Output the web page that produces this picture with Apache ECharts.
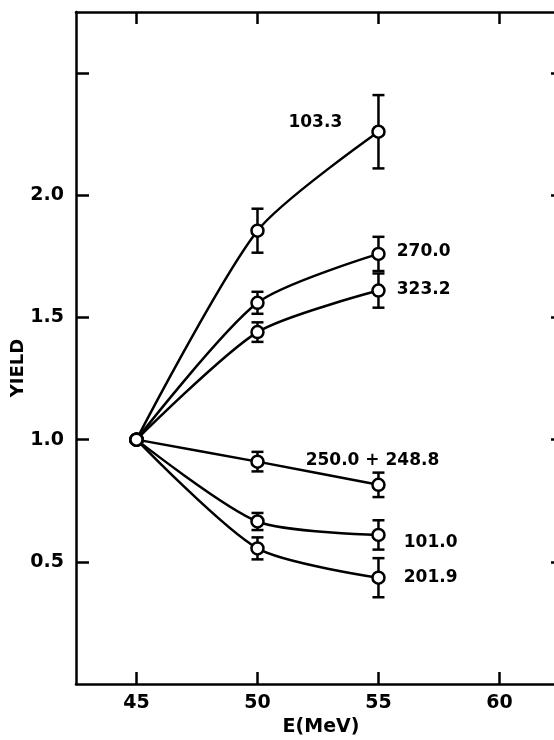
<!DOCTYPE html>
<html>
<head>
<meta charset="utf-8">
<script src="https://cdn.jsdelivr.net/npm/echarts@6/dist/echarts.min.js"></script>
<style>html,body{margin:0;padding:0;background:#fff;}#c{width:554px;height:740px;}</style>
</head>
<body>
<div id="c"></div>
<script>
// ---- data ----
const energies = [45, 50, 55];
const seriesNames = ['103.3', '270.0', '323.2', '250.0 + 248.8', '101.0', '201.9'];
const yield_103_3 = [1.0, 1.855, 2.26];
const err_103_3   = [0, 0.09, 0.15];
const yield_270_0 = [1.0, 1.56, 1.76];
const err_270_0   = [0, 0.045, 0.07];
const yield_323_2 = [1.0, 1.44, 1.61];
const err_323_2   = [0, 0.04, 0.07];
const yield_250_248 = [1.0, 0.91, 0.815];
const err_250_248   = [0, 0.04, 0.05];
const yield_101_0 = [1.0, 0.665, 0.61];
const err_101_0   = [0, 0.035, 0.06];
const yield_201_9 = [1.0, 0.555, 0.435];
const err_201_9   = [0, 0.045, 0.08];
const xTickValues = [45, 50, 55, 60];
const yTickValues = [0.5, 1.0, 1.5, 2.0, 2.5];
const yLabelValues = [0.5, 1.0, 1.5, 2.0];

const allYields = [yield_103_3, yield_270_0, yield_323_2, yield_250_248, yield_101_0, yield_201_9];
const allErrs = [err_103_3, err_270_0, err_323_2, err_250_248, err_101_0, err_201_9];

// label placement (style only)
const labelStyles = [
  {position: 'left', offset: [-24, -9]},
  {position: 'right', offset: [6, -2]},
  {position: 'right', offset: [6, -1]},
  {position: 'top', offset: [-6, -4]},
  {position: 'right', offset: [13, 8]},
  {position: 'right', offset: [13, 0]}
];

const FONT = 'DejaVu Sans';
const chart = echarts.init(document.getElementById('c'), null, {renderer: 'canvas'});

const series = [];
allYields.forEach((ys, si) => {
  series.push({
    type: 'custom',
    xAxisIndex: 0, yAxisIndex: 0,
    z: 2,
    silent: true,
    data: energies.map((e, i) => [e, ys[i], allErrs[si][i]]).filter(d => d[2] > 0),
    renderItem: function (params, api) {
      const x = api.value(0), y = api.value(1), er = api.value(2);
      const top = api.coord([x, y + er]);
      const bot = api.coord([x, y - er]);
      const hw = 6;
      const st = {stroke: '#000', lineWidth: 2.5};
      return {
        type: 'group',
        children: [
          {type: 'line', shape: {x1: top[0], y1: top[1], x2: bot[0], y2: bot[1]}, style: st},
          {type: 'line', shape: {x1: top[0] - hw, y1: top[1], x2: top[0] + hw, y2: top[1]}, style: st},
          {type: 'line', shape: {x1: bot[0] - hw, y1: bot[1], x2: bot[0] + hw, y2: bot[1]}, style: st}
        ]
      };
    }
  });
  const ls = labelStyles[si];
  series.push({
    type: 'line',
    name: seriesNames[si],
    xAxisIndex: 0, yAxisIndex: 0,
    z: 3,
    smooth: 0.25,
    symbol: 'circle',
    symbolSize: 12,
    lineStyle: {color: '#000', width: 2.5},
    itemStyle: {color: '#fff', borderColor: '#000', borderWidth: 2.5},
    data: energies.map((e, i) => {
      const d = {value: [e, ys[i]]};
      if (i === energies.length - 1) {
        d.label = {
          show: true,
          formatter: seriesNames[si],
          position: ls.position,
          offset: ls.offset,
          color: '#000',
          fontFamily: FONT,
          fontWeight: 'bold',
          fontSize: 17
        };
      }
      return d;
    })
  });
});

const axisLine = {show: true, onZero: false, lineStyle: {color: '#000', width: 2.5}};
const tickStyle = {color: '#000', width: 2.5};
const labelFont = {color: '#000', fontFamily: FONT, fontWeight: 'bold', fontSize: 19};

chart.setOption({
  animation: false,
  backgroundColor: '#fff',
  grid: {left: 76, top: 12, width: 490, height: 672, outerBoundsMode: 'none', containLabel: false},
  xAxis: [
    {
      type: 'value', position: 'bottom', min: 42.5, max: 62.75,
      axisLine: axisLine,
      axisTick: {show: true, inside: true, length: 12, lineStyle: tickStyle, customValues: xTickValues},
      axisLabel: Object.assign({show: true, margin: 10, customValues: xTickValues}, labelFont),
      splitLine: {show: false},
      name: 'E(MeV)', nameLocation: 'middle', nameGap: 29,
      nameTextStyle: Object.assign({}, labelFont)
    },
    {
      type: 'value', position: 'top', min: 42.5, max: 62.75,
      axisLine: axisLine,
      axisTick: {show: true, inside: true, length: 12, lineStyle: tickStyle, customValues: xTickValues},
      axisLabel: {show: false},
      splitLine: {show: false}
    }
  ],
  yAxis: [
    {
      type: 'value', position: 'left', min: 0, max: 2.75,
      axisLine: axisLine,
      axisTick: {show: true, inside: true, length: 13, lineStyle: tickStyle, customValues: yTickValues},
      axisLabel: Object.assign({show: true, margin: 12, customValues: yLabelValues,
        formatter: v => v.toFixed(1)}, labelFont),
      splitLine: {show: false}
    },
    {
      type: 'value', position: 'right', min: 0, max: 2.75,
      axisLine: axisLine,
      axisTick: {show: true, inside: true, length: 15, lineStyle: tickStyle, customValues: yTickValues},
      axisLabel: {show: false},
      splitLine: {show: false}
    }
  ],
  graphic: [
    {
      type: 'text', x: 18, y: 368, rotation: Math.PI / 2,
      style: {text: 'YIELD', fill: '#000', font: 'bold 18px "DejaVu Sans"', align: 'center', verticalAlign: 'middle'}
    }
  ],
  series: series
});
</script>
</body>
</html>
